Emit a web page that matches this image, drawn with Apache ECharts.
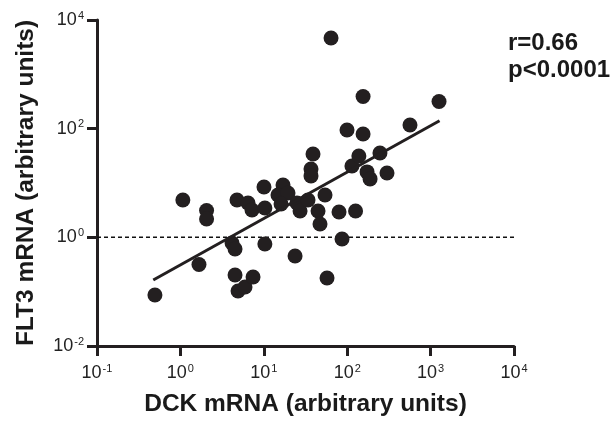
<!DOCTYPE html>
<html>
<head>
<meta charset="utf-8">
<script src="https://cdn.jsdelivr.net/npm/echarts@6/dist/echarts.min.js"></script>
<style>
  html, body { margin: 0; padding: 0; background: #fff; }
  #chart { width: 616px; height: 427px; }
</style>
</head>
<body>
<div id="chart"></div>
<script>
// DCK mRNA (x) and FLT3 mRNA (y), arbitrary units
const dckValues = [0.495, 1.07, 1.67, 2.06, 2.06, 4.52, 4.91, 5.95, 7.43, 4.16, 4.52, 4.77, 6.47, 7.22,
  10.05, 10.3, 10.3, 17.0, 14.8, 19.5, 16.1, 25.0, 27.2, 33.9, 23.7, 38.9, 36.8, 36.8, 54.2, 44.7, 47.2,
  79.8, 126, 86.7, 57.3, 64.0, 99.5, 155, 155, 114, 138, 247, 173, 188, 300, 566, 1262];
const flt3Values = [0.087, 4.87, 0.316, 3.12, 2.18, 0.203, 0.103, 0.122, 0.186, 0.787, 0.609, 4.87, 4.29, 3.19,
  8.45, 3.47, 0.753, 9.19, 6.01, 6.55, 4.11, 4.29, 3.05, 4.87, 0.454, 34.2, 18.1, 13.5, 6.01, 3.05, 1.76,
  2.93, 3.05, 0.93, 0.179, 4670, 94.6, 79.8, 391, 20.6, 31.4, 35.7, 16.0, 11.9, 15.3, 117, 316];
// Regression line end points
const fitX = [0.473, 1280];
const fitY = [0.164, 140];
// Reference line at FLT3 = 1
const refX = [0.1, 10000];
const refY = [1, 1];
const xTicks = [0.1, 1, 10, 100, 1000, 10000];
const yTicks = [0.01, 1, 100, 10000];
const statsText = ['r=0.66', 'p<0.0001'];

const chart = echarts.init(document.getElementById('chart'), null, { renderer: 'canvas' });
const ink = '#231f20';
const fontFam = '"Liberation Sans", Arial, sans-serif';

function powLabel(v) {
  const e = Math.round(Math.log10(v));
  return '{b|10}{s|' + e + '}';
}
const labelRich = {
  b: { fontSize: 18, color: '#222', fontFamily: fontFam },
  s: { fontSize: 11, color: '#222', fontFamily: fontFam, padding: [0, 0, 9, 1] }
};

const option = {
  animation: false,
  backgroundColor: '#fff',
  grid: { left: 97, right: 102, top: 20, bottom: 81 },
  xAxis: {
    type: 'log', logBase: 10, min: xTicks[0], max: xTicks[xTicks.length - 1],
    name: 'DCK mRNA (arbitrary units)', nameLocation: 'middle', nameGap: 46,
    nameTextStyle: { fontSize: 24.5, fontWeight: 'bold', color: '#1a1a1a', fontFamily: fontFam },
    axisLine: { lineStyle: { color: ink, width: 3 } },
    axisTick: { length: 10, lineStyle: { color: ink, width: 3 } },
    minorTick: { show: false },
    splitLine: { show: false },
    axisLabel: { margin: 17, formatter: powLabel, rich: labelRich }
  },
  yAxis: {
    type: 'log', logBase: 100, min: yTicks[0], max: yTicks[yTicks.length - 1],
    name: 'FLT3 mRNA (arbitrary units)', nameLocation: 'middle', nameGap: 58,
    nameTextStyle: { fontSize: 24.5, fontWeight: 'bold', color: '#1a1a1a', fontFamily: fontFam },
    axisLine: { lineStyle: { color: ink, width: 3 } },
    axisTick: { length: 10, lineStyle: { color: ink, width: 3 } },
    minorTick: { show: false },
    splitLine: { show: false },
    axisLabel: { margin: 13, formatter: powLabel, rich: labelRich }
  },
  graphic: [{
    type: 'text', left: 508, top: 30,
    style: {
      text: statsText.join('\n'), fontSize: 24, fontWeight: 'bold', lineHeight: 27,
      fill: '#1a1a1a', fontFamily: fontFam
    }
  }],
  series: [
    {
      type: 'line', data: refX.map((x, i) => [x, refY[i]]), symbol: 'none', z: 1,
      lineStyle: { color: '#111', width: 1.5, type: [4, 3] }, silent: true
    },
    {
      type: 'scatter', data: dckValues.map((x, i) => [x, flt3Values[i]]), symbolSize: 15, z: 2,
      itemStyle: { color: ink, opacity: 1 }
    },
    {
      type: 'line', data: fitX.map((x, i) => [x, fitY[i]]), symbol: 'none', z: 3,
      lineStyle: { color: ink, width: 3 }, silent: true
    }
  ]
};
chart.setOption(option);
</script>
</body>
</html>
